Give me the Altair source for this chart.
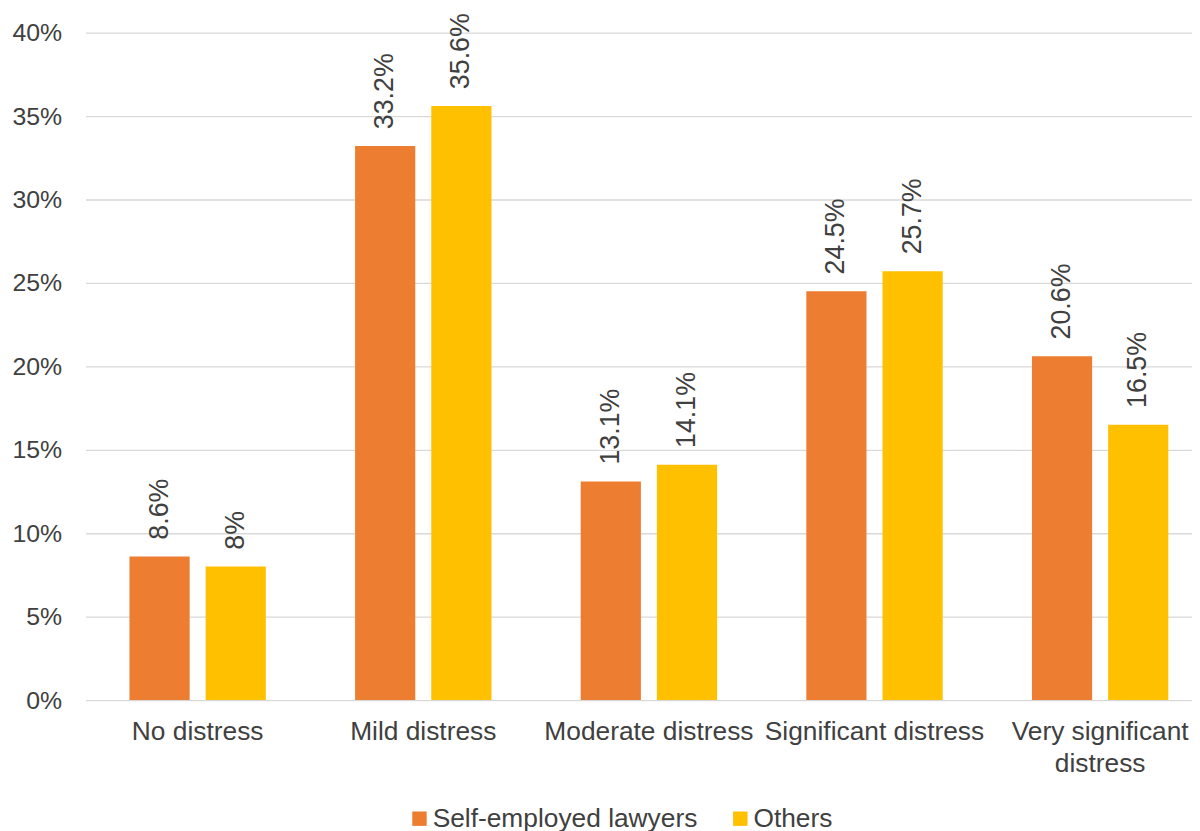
import altair as alt
import pandas as pd

categories = ["No distress", "Mild distress", "Moderate distress", "Significant distress", "Very significant distress"]
series = ["Self-employed lawyers", "Others"]
self_employed = [0.086, 0.332, 0.131, 0.245, 0.206]
others = [0.080, 0.356, 0.141, 0.257, 0.165]
self_labels = ["8.6%", "33.2%", "13.1%", "24.5%", "20.6%"]
other_labels = ["8%", "35.6%", "14.1%", "25.7%", "16.5%"]
colors = ["#ED7D31", "#FFC000"]
y_ticks = [0, 0.05, 0.10, 0.15, 0.20, 0.25, 0.30, 0.35, 0.40]

rows = []
for i, c in enumerate(categories):
    rows.append({"category": c, "series": series[0], "value": self_employed[i], "label": self_labels[i]})
    rows.append({"category": c, "series": series[1], "value": others[i], "label": other_labels[i]})
df = pd.DataFrame(rows)

FONT = "Liberation Sans"
TXT = "#404040"

x_scale = alt.Scale(paddingInner=0.3956, paddingOuter=0.15, align=0.65)
x_enc = alt.X(
    "category:N",
    sort=categories,
    title=None,
    scale=x_scale,
    axis=alt.Axis(
        labelAngle=0,
        labelFontSize=26.5,
        labelFont=FONT,
        labelColor=TXT,
        labelPadding=19,
        labelLimit=400,
        labelOverlap=False,
        labelLineHeight=32,
        labelExpr="datum.label == 'Very significant distress' ? ['Very significant', 'distress'] : datum.label",
        ticks=False,
        domain=False,
        grid=False,
    ),
)
xoff = alt.XOffset("series:N", sort=series, scale=alt.Scale(paddingInner=0.21, paddingOuter=0))
y_enc = alt.Y(
    "value:Q",
    title=None,
    scale=alt.Scale(domain=[0, 0.40], nice=False),
    axis=alt.Axis(
        values=y_ticks,
        format=".0%",
        labelFontSize=25,
        labelFont=FONT,
        labelColor=TXT,
        labelPadding=24,
        ticks=False,
        domain=False,
        gridColor="#D9D9D9",
        gridWidth=1.3,
    ),
)

bars = alt.Chart(df).mark_bar().encode(
    x=x_enc,
    xOffset=xoff,
    y=y_enc,
    color=alt.Color(
        "series:N",
        sort=series,
        scale=alt.Scale(domain=series, range=colors),
        legend=alt.Legend(
            title=None,
            orient="none",
            direction="horizontal",
            legendX=323,
            legendY=778,
            symbolType="square",
            symbolSize=210,
            symbolStrokeWidth=0,
            labelFontSize=26.5,
            labelFont=FONT,
            labelColor=TXT,
            labelLimit=400,
            labelOffset=0,
            columnPadding=29,
        ),
    ),
)

text = alt.Chart(df).mark_text(
    angle=270, align="left", baseline="middle", dx=17, fontSize=27, font=FONT, color=TXT
).encode(
    x=x_enc,
    xOffset=xoff,
    y=y_enc,
    text="label:N",
)

chart = (
    alt.layer(bars, text)
    .properties(
        width=1114,
        height=672,
        autosize=alt.AutoSizeParams(type="none"),
        padding={"left": 78, "top": 22, "right": 0, "bottom": 131},
    )
    .configure_view(stroke=None)
)

chart.save("out.html", embed_options={"renderer": "svg", "actions": False})
